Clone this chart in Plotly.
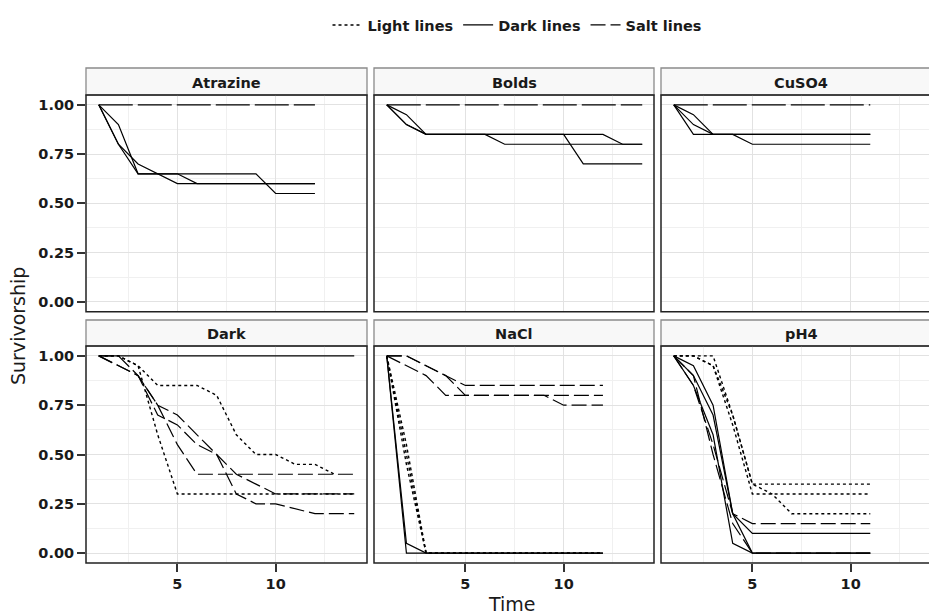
import plotly.graph_objects as go

W, H = 929, 615

# ---- survivorship data: one list of values per replicate line ----
atrazine_time = [1, 2, 3, 4, 5, 6, 7, 8, 9, 10, 11, 12]
atrazine_light = []
atrazine_dark = [
    [1.00, 0.90, 0.65, 0.65, 0.65, 0.65, 0.65, 0.65, 0.65, 0.55, 0.55, 0.55],
    [1.00, 0.80, 0.70, 0.65, 0.60, 0.60, 0.60, 0.60, 0.60, 0.60, 0.60, 0.60],
    [1.00, 0.80, 0.65, 0.65, 0.65, 0.60, 0.60, 0.60, 0.60, 0.60, 0.60, 0.60],
]
atrazine_salt = [
    [1.00, 1.00, 1.00, 1.00, 1.00, 1.00, 1.00, 1.00, 1.00, 1.00, 1.00, 1.00],
]

bolds_time = [1, 2, 3, 4, 5, 6, 7, 8, 9, 10, 11, 12, 13, 14]
bolds_light = []
bolds_dark = [
    [1.00, 0.95, 0.85, 0.85, 0.85, 0.85, 0.85, 0.85, 0.85, 0.85, 0.85, 0.85, 0.80, 0.80],
    [1.00, 0.90, 0.85, 0.85, 0.85, 0.85, 0.80, 0.80, 0.80, 0.80, 0.80, 0.80, 0.80, 0.80],
    [1.00, 0.90, 0.85, 0.85, 0.85, 0.85, 0.85, 0.85, 0.85, 0.85, 0.70, 0.70, 0.70, 0.70],
]
bolds_salt = [
    [1.00, 1.00, 1.00, 1.00, 1.00, 1.00, 1.00, 1.00, 1.00, 1.00, 1.00, 1.00, 1.00, 1.00],
]

cuso4_time = [1, 2, 3, 4, 5, 6, 7, 8, 9, 10, 11]
cuso4_light = []
cuso4_dark = [
    [1.00, 0.85, 0.85, 0.85, 0.85, 0.85, 0.85, 0.85, 0.85, 0.85, 0.85],
    [1.00, 0.95, 0.85, 0.85, 0.85, 0.85, 0.85, 0.85, 0.85, 0.85, 0.85],
    [1.00, 0.90, 0.85, 0.85, 0.80, 0.80, 0.80, 0.80, 0.80, 0.80, 0.80],
]
cuso4_salt = [
    [1.00, 1.00, 1.00, 1.00, 1.00, 1.00, 1.00, 1.00, 1.00, 1.00, 1.00],
]

dark_time = [1, 2, 3, 4, 5, 6, 7, 8, 9, 10, 11, 12, 13, 14]
dark_light = [
    [1.00, 1.00, 0.95, 0.85, 0.85, 0.85, 0.80, 0.60, 0.50, 0.50, 0.45, 0.45, 0.40],
    [1.00, 1.00, 0.95, 0.60, 0.30, 0.30, 0.30, 0.30, 0.30, 0.30, 0.30, 0.30, 0.30, 0.30],
]
dark_dark = [
    [1.00, 1.00, 1.00, 1.00, 1.00, 1.00, 1.00, 1.00, 1.00, 1.00, 1.00, 1.00, 1.00, 1.00],
]
dark_salt = [
    [1.00, 0.95, 0.90, 0.75, 0.55, 0.40, 0.40, 0.40, 0.40, 0.40, 0.40, 0.40, 0.40, 0.40],
    [1.00, 1.00, 0.90, 0.75, 0.70, 0.60, 0.50, 0.40, 0.35, 0.30, 0.30, 0.30, 0.30, 0.30],
    [1.00, 0.95, 0.90, 0.70, 0.65, 0.55, 0.50, 0.30, 0.25, 0.25, 0.225, 0.20, 0.20, 0.20],
]

nacl_time = [1, 2, 3, 4, 5, 6, 7, 8, 9, 10, 11, 12]
nacl_light = [
    [1.00, 0.50, 0.00, 0.00, 0.00, 0.00, 0.00, 0.00, 0.00, 0.00, 0.00, 0.00],
    [1.00, 0.55, 0.00, 0.00, 0.00, 0.00, 0.00, 0.00, 0.00, 0.00, 0.00, 0.00],
    [1.00, 0.45, 0.00, 0.00, 0.00, 0.00, 0.00, 0.00, 0.00, 0.00, 0.00, 0.00],
]
nacl_dark = [
    [1.00, 0.00, 0.00, 0.00, 0.00, 0.00, 0.00, 0.00, 0.00, 0.00, 0.00, 0.00],
    [1.00, 0.05, 0.00, 0.00, 0.00, 0.00, 0.00, 0.00, 0.00, 0.00, 0.00, 0.00],
]
nacl_salt = [
    [1.00, 1.00, 0.95, 0.90, 0.85, 0.85, 0.85, 0.85, 0.85, 0.85, 0.85, 0.85],
    [1.00, 0.95, 0.90, 0.80, 0.80, 0.80, 0.80, 0.80, 0.80, 0.80, 0.80, 0.80],
    [1.00, 1.00, 0.95, 0.90, 0.80, 0.80, 0.80, 0.80, 0.80, 0.75, 0.75, 0.75],
]

ph4_time = [1, 2, 3, 4, 5, 6, 7, 8, 9, 10, 11]
ph4_light = [
    [1.00, 1.00, 1.00, 0.70, 0.35, 0.35, 0.35, 0.35, 0.35, 0.35, 0.35],
    [1.00, 1.00, 0.95, 0.65, 0.30, 0.30, 0.30, 0.30, 0.30, 0.30, 0.30],
    [1.00, 1.00, 0.95, 0.70, 0.35, 0.30, 0.20, 0.20, 0.20, 0.20, 0.20],
]
ph4_dark = [
    [1.00, 0.90, 0.70, 0.20, 0.00, 0.00, 0.00, 0.00, 0.00, 0.00, 0.00],
    [1.00, 0.95, 0.75, 0.20, 0.10, 0.10, 0.10, 0.10, 0.10, 0.10, 0.10],
    [1.00, 0.85, 0.60, 0.05, 0.00, 0.00, 0.00, 0.00, 0.00, 0.00, 0.00],
]
ph4_salt = [
    [1.00, 0.85, 0.55, 0.20, 0.15, 0.15, 0.15, 0.15, 0.15, 0.15, 0.15],
    [1.00, 0.90, 0.50, 0.15, 0.00, 0.00, 0.00, 0.00, 0.00, 0.00, 0.00],
]

y_ticks = [0.0, 0.25, 0.5, 0.75, 1.0]
y_ticklabels = ["0.00", "0.25", "0.50", "0.75", "1.00"]

panels = [
    ("Atrazine", atrazine_time, atrazine_light, atrazine_dark, atrazine_salt),
    ("Bolds", bolds_time, bolds_light, bolds_dark, bolds_salt),
    ("CuSO4", cuso4_time, cuso4_light, cuso4_dark, cuso4_salt),
    ("Dark", dark_time, dark_light, dark_dark, dark_salt),
    ("NaCl", nacl_time, nacl_light, nacl_dark, nacl_salt),
    ("pH4", ph4_time, ph4_light, ph4_dark, ph4_salt),
]

# ---- layout geometry (pixels) ----
FONT = "DejaVu Sans"
INK = "#1a1a1a"
LABEL_FONT = dict(family=FONT, size=14.5, color=INK, weight="bold")
col_px = [(86, 367), (374, 654), (661, 941)]
row_px = [(95, 311.7), (346, 563)]
strip_px = [(68, 95), (320, 346)]
X_LO, X_HI = 0.35, 14.65
px_per_unit = (col_px[0][1] - col_px[0][0]) / (X_HI - X_LO)


def px(x):
    return x / W


def py(y):
    return 1 - y / H


fig = go.Figure()
shapes = []
annotations = []
layout_axes = {}

legend_done = set()
for i, (name, t, light, dark, salt) in enumerate(panels):
    r, c = divmod(i, 3)
    n = i + 1
    xa = "x" if n == 1 else f"x{n}"
    ya = "y" if n == 1 else f"y{n}"
    x0p, x1p = col_px[c]
    y0p, y1p = row_px[r]
    x1_vis = min(x1p, W)
    x_hi = X_LO + (x1_vis - x0p) / px_per_unit
    salt_dash = "34px,5px" if r == 0 else "15px,5px"

    groups = [
        ("Light lines", light, "3px,3px", 1, 1.4),
        ("Dark lines", dark, "solid", 2, 1.2),
        ("Salt lines", salt, salt_dash, 3, 1.2),
    ]
    for label, series, dash, rank, lw in groups:
        for vals in series:
            show = label not in legend_done and (label != "Salt lines" or r == 1)
            if show:
                legend_done.add(label)
            fig.add_trace(go.Scatter(
                x=t[:len(vals)], y=vals, mode="lines",
                line=dict(color="black", width=lw, dash=dash),
                name=label, legendgroup=label, showlegend=show,
                legendrank=rank, xaxis=xa, yaxis=ya, hoverinfo="skip",
            ))

    bottom = r == 1
    left = c == 0
    xkey = "xaxis" if n == 1 else f"xaxis{n}"
    ykey = "yaxis" if n == 1 else f"yaxis{n}"
    layout_axes[xkey] = dict(
        domain=[px(x0p), px(x1_vis)], range=[X_LO, x_hi], anchor=ya,
        tickmode="linear", tick0=0, dtick=5,
        showgrid=True, gridcolor="#e2e2e2", gridwidth=1, zeroline=False,
        showline=False,
        ticks="outside" if bottom else "", ticklen=8, tickwidth=1.5, tickcolor="#333",
        showticklabels=bottom,
        tickfont=LABEL_FONT,
        minor=dict(dtick=2.5, tick0=0, showgrid=True, gridcolor="#f0f0f0", gridwidth=1),
    )
    layout_axes[ykey] = dict(
        domain=[py(y1p), py(y0p)], range=[-0.05, 1.05], anchor=xa,
        tickmode="array", tickvals=y_ticks, ticktext=y_ticklabels,
        showgrid=True, gridcolor="#e2e2e2", gridwidth=1, zeroline=False,
        showline=False,
        ticks="outside" if left else "", ticklen=8, tickwidth=1.5, tickcolor="#333",
        showticklabels=left,
        tickfont=LABEL_FONT,
        minor=dict(dtick=0.125, tick0=0, showgrid=True, gridcolor="#f0f0f0", gridwidth=1),
    )

    # panel border
    shapes.append(dict(type="rect", xref="paper", yref="paper",
                       x0=px(x0p), x1=px(x1p), y0=py(y1p), y1=py(y0p),
                       line=dict(color="#222222", width=1.5), layer="above"))
    # facet strip
    s0, s1 = strip_px[r]
    shapes.append(dict(type="rect", xref="paper", yref="paper",
                       x0=px(x0p), x1=px(x1p), y0=py(s1), y1=py(s0),
                       fillcolor="#f8f8f8", line=dict(color="#8a8a8a", width=1.3),
                       layer="below"))
    annotations.append(dict(text=name, xref="paper", yref="paper",
                            x=px((x0p + x1p) / 2), y=py((s0 + s1) / 2 + 1),
                            showarrow=False, xanchor="center", yanchor="middle",
                            font=LABEL_FONT))

annotations.append(dict(text="Time", xref="paper", yref="paper",
                        x=px(512), y=py(604), showarrow=False,
                        xanchor="center", yanchor="middle",
                        font=dict(family=FONT, size=19, color=INK)))
annotations.append(dict(text="Survivorship", xref="paper", yref="paper",
                        x=px(18), y=py(326), showarrow=False, textangle=-90,
                        xanchor="center", yanchor="middle",
                        font=dict(family=FONT, size=19, color=INK)))

fig.update_layout(
    width=W, height=H,
    margin=dict(l=0, r=0, t=0, b=0),
    paper_bgcolor="white", plot_bgcolor="white",
    shapes=shapes, annotations=annotations,
    legend=dict(orientation="h", x=px(517), y=py(25), xanchor="center",
                yanchor="middle", font=LABEL_FONT,
                bgcolor="rgba(0,0,0,0)", itemwidth=30, traceorder="normal"),
    **layout_axes,
)

fig.write_html("out.html")
